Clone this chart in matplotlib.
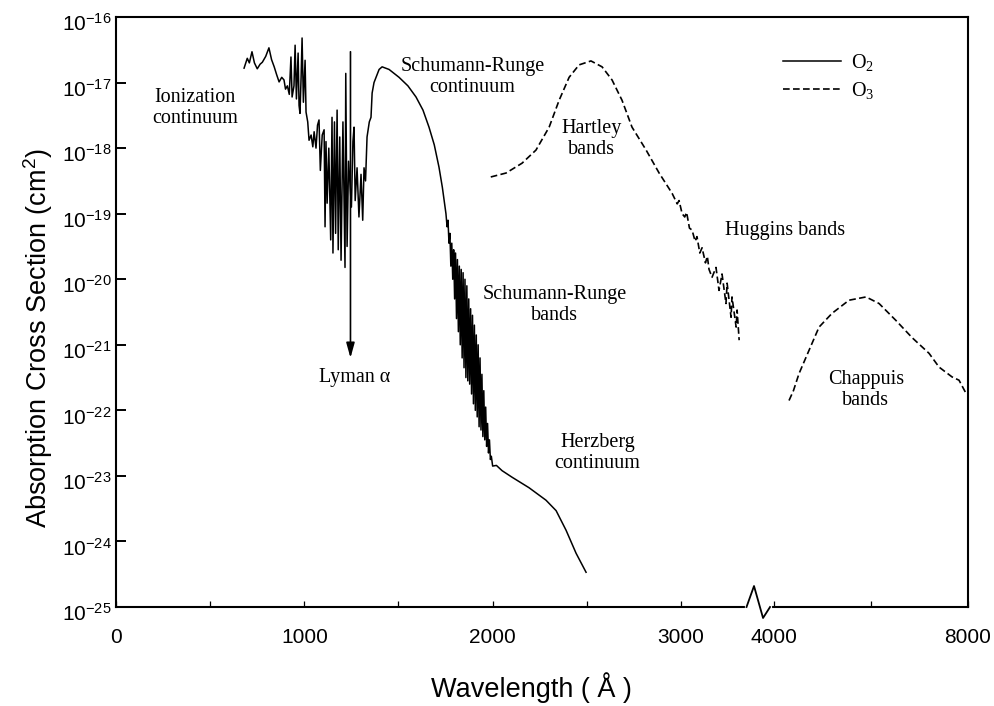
import numpy as np
import matplotlib
matplotlib.use('Agg')
import matplotlib.pyplot as plt
import matplotlib.transforms as mtransforms
from matplotlib.ticker import NullLocator

plt.rcParams['font.family'] = ['Liberation Sans', 'DejaVu Sans']
plt.rcParams['mathtext.default'] = 'regular'

# O2 cross section, wavelength in Angstrom, log10(sigma / cm^2)
o2_wl = [680, 697, 708, 722, 735, 750, 765, 777, 795, 812, 826, 840, 853, 866, 880, 892,
         900, 910, 920, 929, 935, 945, 951, 958, 967, 972, 977, 983, 988, 995, 1004, 1009,
         1018, 1025, 1036, 1045, 1052, 1062, 1070, 1078, 1085, 1095, 1105, 1110, 1115, 1121,
         1130, 1140, 1147, 1152, 1160, 1166, 1174, 1180, 1188, 1195, 1205, 1216, 1220, 1227,
         1235, 1250, 1258, 1264, 1270, 1280, 1290, 1301, 1310, 1317, 1325, 1333, 1345, 1354,
         1360, 1370, 1381, 1397, 1413, 1450, 1503, 1550, 1593, 1630, 1662, 1690, 1715, 1733,
         1745, 1752, 1758, 1763, 1768, 1773, 1778, 1783, 1788, 1793, 1798, 1803, 1808, 1813,
         1818, 1823, 1828, 1833, 1838, 1843, 1848, 1853, 1858, 1863, 1868, 1873, 1878, 1883,
         1888, 1893, 1898, 1903, 1908, 1913, 1918, 1923, 1928, 1933, 1938, 1943, 1948, 1953,
         1958, 1963, 1968, 1973, 1978, 1983, 1988, 1993, 2000,
         2020, 2050, 2103, 2193, 2283, 2337, 2390, 2443, 2496]
o2_log = [-16.78, -16.63, -16.70, -16.53, -16.70, -16.79, -16.72, -16.69, -16.60, -16.47,
          -16.65, -16.76, -16.88, -16.99, -16.92, -16.96, -17.10, -17.05, -17.18, -16.61,
          -17.22, -17.05, -16.43, -17.25, -16.55, -17.35, -17.47, -16.90, -16.32, -17.30,
          -16.66, -17.45, -17.60, -17.88, -17.80, -17.98, -17.75, -18.00, -17.65, -17.57,
          -18.34, -17.80, -17.72, -19.20, -17.90, -18.84, -18.00, -19.40, -17.53, -19.60,
          -17.60, -19.30, -17.42, -19.55, -17.83, -19.71, -17.60, -19.82, -16.86, -19.50,
          -18.20, -18.90, -17.90, -17.68, -18.80, -18.30, -19.05, -18.40, -19.10, -18.30,
          -18.50, -17.83, -17.60, -17.53, -17.16, -17.00, -16.92, -16.80, -16.76, -16.80,
          -16.92, -17.05, -17.22, -17.42, -17.68, -17.95, -18.29, -18.60,
          -18.85, -19.00, -19.20, -19.10, -19.45, -19.30, -19.80, -19.45, -20.00, -19.55,
          -20.30, -19.60, -20.60, -19.70, -20.80, -19.80, -21.00, -19.85, -21.20, -19.90,
          -21.35, -20.00, -21.50, -20.10, -21.55, -20.30, -21.60, -20.45, -21.75, -20.55,
          -21.90, -20.70, -22.00, -20.85, -22.10, -21.00, -22.25, -21.20, -22.30, -21.45,
          -22.40, -21.70, -22.45, -21.95, -22.55, -22.20, -22.65, -22.45, -22.75, -22.70,
          -22.85,
          -22.84, -22.92, -23.02, -23.18, -23.37, -23.53, -23.83, -24.18, -24.47]

# O3 Hartley + Huggins bands
o3_uv_wl = [1990, 2071, 2156, 2230, 2300, 2353, 2406, 2459, 2522, 2581, 2634, 2687, 2740,
            2815, 2884, 2953, 2980, 2990, 3006, 3020, 3030, 3045, 3059, 3075, 3085, 3100,
            3112, 3130, 3140, 3149, 3165, 3186, 3202, 3218, 3239, 3245, 3266, 3271, 3293,
            3298, 3309]
o3_uv_log = [-18.44, -18.38, -18.23, -18.03, -17.68, -17.27, -16.92, -16.73, -16.67, -16.76,
             -16.96, -17.27, -17.68, -18.03, -18.38, -18.69, -18.85, -18.80, -19.00, -19.05,
             -18.98, -19.22, -19.25, -19.42, -19.35, -19.60, -19.52, -19.75, -19.65, -19.85,
             -19.97, -19.82, -20.17, -19.92, -20.37, -20.06, -20.58, -20.27, -20.73, -20.47,
             -20.93]

# O3 Chappuis bands
o3_vis_wl = [4309, 4400, 4515, 4660, 4928, 5196, 5546, 5897, 6165, 6515, 6845, 7196, 7402,
             7670, 7814, 7958]
o3_vis_log = [-21.85, -21.70, -21.44, -21.19, -20.73, -20.52, -20.32, -20.27, -20.37, -20.63,
              -20.89, -21.13, -21.34, -21.49, -21.54, -21.74]

lyman_wl = 1245

x_major = [0, 1000, 2000, 3000, 4000, 8000]
x_labels = ['0', '1000', '2000', '3000', '4000', '8000']
x_minor = [500, 1500, 2500, 6000]
y_exps = [-25, -24, -23, -22, -21, -20, -19, -18, -17, -16]

# broken wavelength axis: linear up to ~3400, compressed 4000-8000
w_knots = [-8000, 0, 3380, 4000, 8000, 16000]
u_knots = [-1506, 0, 636.5, 658, 852, 1240]


def fwd(w):
    return np.interp(w, w_knots, u_knots)


def inv(u):
    return np.interp(u, u_knots, w_knots)


fig = plt.figure(figsize=(9.95, 7.06), dpi=100)
ax = fig.add_axes([0.1166, 0.1402, 0.8563, 0.8357])
ax.set_xscale('function', functions=(fwd, inv))
ax.set_yscale('log')

ax.plot(o2_wl, 10 ** np.array(o2_log), color='black', lw=1.1, label='O$_2$')
ax.plot(o3_uv_wl, 10 ** np.array(o3_uv_log), color='black', lw=1.2, dashes=(4, 2), label='O$_3$')
ax.plot(o3_vis_wl, 10 ** np.array(o3_vis_log), color='black', lw=1.2, dashes=(4, 2))

ax.annotate('', xy=(lyman_wl, 10 ** -21.2), xytext=(lyman_wl, 10 ** -16.53),
            arrowprops=dict(arrowstyle='-|>,head_length=0.9,head_width=0.25', color='black',
                            lw=1.2, shrinkA=0, shrinkB=0, mutation_scale=10))

ax.set_xlim(0, 8000)
ax.set_ylim(1e-25, 1e-16)
ax.set_xticks(x_major, labels=x_labels)
ax.set_xticks(x_minor, minor=True)
ax.set_yticks([10.0 ** e for e in y_exps], labels=['$10^{%d}$' % e for e in y_exps])
ax.yaxis.set_minor_locator(NullLocator())
ax.tick_params(axis='x', which='both', direction='in', length=4.5, width=0.9, pad=15, labelsize=15)
ax.tick_params(axis='y', direction='in', length=7, width=1.4, pad=3, labelsize=15)
for s in ax.spines.values():
    s.set_linewidth(1.5)

# y labels sit a little below their ticks in the original
shift = mtransforms.ScaledTranslation(0, -5 / 100, fig.dpi_scale_trans)
for lab in ax.get_yticklabels():
    lab.set_transform(lab.get_transform() + shift)

# axis break mark
ax.plot([0.741, 0.768], [0, 0], transform=ax.transAxes, color='white', lw=3, clip_on=False, zorder=5)
ax.plot([0.740, 0.7488, 0.7594, 0.7676], [0, 0.0356, -0.0186, 0], transform=ax.transAxes,
        color='black', lw=1.3, clip_on=False, zorder=6)

serif = ['Liberation Serif', 'DejaVu Serif']
notes = [('Ionization\ncontinuum', 0.0928, 0.8458),
         ('Schumann-Runge\ncontinuum', 0.4183, 0.8983),
         ('Hartley\nbands', 0.5582, 0.7932),
         ('Huggins bands', 0.7850, 0.6390),
         ('Schumann-Runge\nbands', 0.5147, 0.5119),
         ('Lyman α', 0.2797, 0.3898),
         ('Herzberg\ncontinuum', 0.5652, 0.2610),
         ('Chappuis\nbands', 0.8801, 0.3678)]
for txt, fx, fy in notes:
    ax.text(fx, fy, txt, transform=ax.transAxes, ha='center', va='center',
            family=serif, fontsize=14.5, linespacing=1.1)

ax.legend(loc='upper left', bbox_to_anchor=(783 / 995, 1 - 52 / 706), bbox_transform=fig.transFigure,
          frameon=False, borderpad=0, borderaxespad=0, handlelength=2.9, handletextpad=0.5,
          labelspacing=0.35, prop={'family': serif, 'size': 14.5})

fig.text(0.0382, 0.5212, 'Absorption Cross Section (cm$^2$)', rotation=90, ha='center', va='center', fontsize=19.5)
fig.text(0.5337, 0.0255, 'Wavelength ( Å )', ha='center', va='center', fontsize=19.5)

plt.savefig('out.png', dpi=100)
